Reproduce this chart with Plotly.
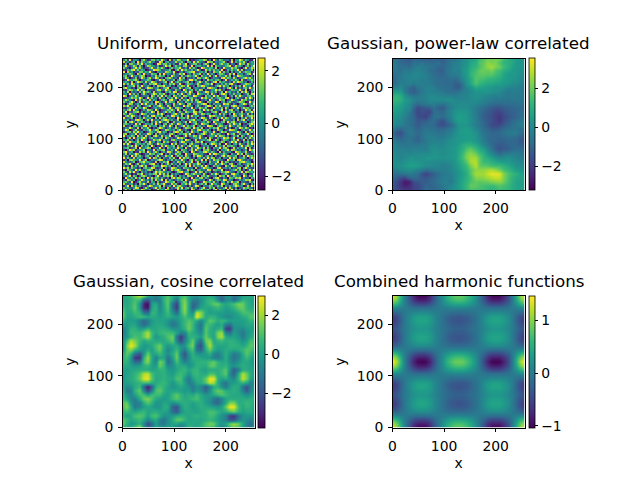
import plotly.graph_objects as go

# Noise panel: one digit per cell, 0 is the lowest colour level and 9 the highest
uniform_rows = [
    "472915530684127746395208164873559021346687140952763341805597264118",
    "835146092753684411970562338457206619485320977143568202916475830364",
    "160774385926453019847736251184690357724168503942685571430296718455",
    "593248617304875526114968037452783190566342918075434679128563047269",
    "742036958412269337585104746693251847301975466280319544867310592586",
    "216589473650134988623457105829674362594018573746290163745928134470",
    "908451327746593105442876391035146789225637041865927350614482576613",
    "354762085193427660819354272486903517468152936304775128390645147829",
    "671394526870215384756041963317258646930745281591644837052976433150",
    "485023714962683597130678524194703325187469602543189576284135796842",
    "129657840345761024968253470586314995723041856367402913647508214573",
    "563180497628349751236804915742568140369527314890756324185976340261",
    "847296351054176893405517682391047652484136759025263748932014587634",
    "304568172943620518779346120658739214076985423157948560426371964518",
    "795413068215987346126790354284156803542361897640315279508142673946",
    "216874593760432158843965217430962571638704125596824013765493180257",
    "638052417396751824510647398125483960174259836471370956242718594063",
    "451937260584126973768204561749316825096543718320489615373560247189",
    "970364851243508617492735086361875429853107462958134702618495326745",
    "123586749602947351835064729518240673412968537246753891405732184960",
    "586410927375183640267518943072659481760325194513867024964218673512",
    "742695038146725098413927650834175362589410763298046157323687501946",
    "305871462959346281750643182596407813265798041635419783152046972638",
    "869243175024681537962185074321958640473126985074823561798354210475",
    "214750836497102463586329417865034291538647102956371840263915867342",
    "637918540263875194023476851940762358106295847143590627814503296718",
    "490326781514639708125847360273186549847502316782064935761428053694",
    "751864203976254318694021579438625017923874650351827416095367428150",
    "168497325043718956470362984617039284561430297864526103487259136785",
    "923570416285463071837615240956748132604985173027394862541706382491",
    "546132897604829345168974623805213679354068214679018543260837915264",
    "380795164751306284952480173462580946712563840953267194783142560378",
    "675241938026547193306715842974163025841976502384651027396480215796",
    "812406753389174560648329507136927458036241987105873629542761340853",
    "254963180745820316975146238520487619573802164769234815016397486120",
    "497015832164693587023875461693251074289564730418650239875104623947",
    "136728594501376428946503179847036295461187352920486713345962081574",
    "780354916243985071634127850265784913025796148637512094681273459302",
    "925476083618240795183649027510392648738410256493876150264807513694",
    "403819265796157342570862413978620135649327085116249783590346172856",
    "658240371954023867926431785346197502813564790285037641473912806125",
    "172965483027394516408572136059843261785902346751486025969130547382",
    "849301756462785139675320948132570684321647059863701924056284317496",
    "316582940735619402183964570728416935870253614092538176743059268541",
    "567124809346870253914075362954082173496381720645927830182635490713",
    "204978135680432916578143629307651482953076841317054692875241360968",
    "793460218571952684036298514862743096125489637520816345109763482156",
    "481635972014386725790416238571094328764521093986347510632958074213",
    "625093847316724058142865903746185207398614725041279386457031829674",
    "937418265403591872605327481092867314056273948713605429286145730586",
    "140786539268015347983154726439520681743908152867431095570896324216",
    "852347016795642180437690152864713590281645073459082761314278965403",
    "376920481563278914061482735170394826597130264283596417820561347695",
    "514083627948103765298746031625480917364829501746310852976234058173",
    "968275314067459821370513986241765340812597643018924536142780695321",
    "207631958424786053619402857963128475056342981765490213568371402849",
    "741859230635120496875364102789456013928716350241376895320649187564",
    "583402176914365782948270635410297368645183027596024731896512740238",
    "426917503786241059317685924063518742190674832350867194275340961758",
    "095362847150938476263140795872643091537826410689215307648791523064",
    "318746025963527184590826413657092138764350296147639825401263587910",
    "674290158342816507123975680324761859401297563824056173956804321746",
    "832561407695043728469312857106584932615748039562197340278516943061",
    "159084736221697345807246193785320614982053476137480526369745018295",
    "746325981048512693735081426949167283503692174805326918415023867430",
    "281607453974360128564973210836452097126845730691754083927361540682",
]

# Correlated fields, tenths of a unit, rows from y=256 down to y=0 in steps of 8
powerlaw_rows = [
    [-6,-8,-10,-12,-14,-11,-10,-12,-12,-13,-10,-12,-12,-9,-6,-7,-3,0,2,6,8,14,17,20,20,21,20,14,10,7,5,3,2],
    [-4,-7,-9,-10,-11,-6,-8,-5,-8,-8,-9,-7,-11,-8,-5,-3,-2,1,3,8,10,17,19,24,22,22,16,12,10,8,4,3,2],
    [-3,-6,-8,-7,-9,-5,-3,-4,-5,-6,-7,-10,-10,-7,-5,-2,-2,2,4,9,12,16,20,24,26,22,20,14,10,6,4,3,2],
    [-6,-5,-7,-4,-5,-2,-2,-3,-4,-8,-9,-11,-12,-6,-4,-2,-3,3,5,11,15,19,20,19,21,16,14,10,7,5,3,2,0],
    [-8,-6,-5,-2,-2,-1,0,-2,-3,-5,-8,-9,-10,-7,-5,-4,-3,1,5,12,16,18,18,17,17,14,12,7,4,4,3,1,-1],
    [-10,-7,-4,-3,-2,-1,-2,-4,-2,-5,-6,-8,-8,-9,-7,-10,-6,-1,4,9,17,15,14,12,11,10,8,6,5,3,2,0,-3],
    [-10,-6,-3,-4,-2,-5,-3,-4,-4,-4,-6,-8,-8,-9,-9,-11,-12,-5,3,8,16,12,10,8,8,6,6,4,3,1,0,-2,-4],
    [-3,-2,0,-5,-9,-12,-6,-4,-2,-2,-3,-6,-7,-8,-8,-12,-13,-6,-1,2,8,6,6,4,3,2,2,1,-2,-2,-2,-4,-5],
    [4,5,4,-4,-10,-12,-9,-5,-3,-2,-3,-3,-5,-7,-8,-7,-6,-3,-2,0,3,3,3,3,2,1,0,-3,-5,-3,-4,-4,-6],
    [10,12,9,2,-3,-6,-5,-3,-2,0,0,-1,-2,-3,-2,-4,-3,-2,-1,1,2,1,0,-1,-2,-3,-2,-4,-5,-4,-5,-4,-6],
    [13,12,10,5,2,-2,-4,-3,-3,0,0,1,0,2,1,0,-1,-1,-1,0,1,0,-2,-3,-4,-5,-5,-6,-6,-5,-5,-5,-6],
    [10,9,7,3,0,-5,-8,-6,-5,-3,-3,-5,-6,-4,-1,0,0,1,0,0,-1,-2,-4,-6,-8,-9,-9,-8,-8,-8,-7,-7,-8],
    [8,6,5,1,-1,-10,-17,-14,-13,-12,-7,-11,-13,-6,-3,0,1,1,1,-1,-4,-6,-8,-11,-13,-14,-14,-12,-11,-10,-9,-9,-10],
    [6,4,3,0,-4,-12,-18,-15,-17,-18,-8,-8,-10,-4,-1,2,4,3,3,0,-4,-8,-11,-13,-15,-18,-18,-15,-12,-11,-10,-8,-8],
    [3,2,1,-2,-7,-10,-16,-17,-19,-12,-7,-6,-8,-5,-2,3,6,5,4,0,-4,-8,-12,-14,-16,-19,-21,-17,-14,-12,-10,-8,-6],
    [2,0,-1,-4,-7,-9,-14,-12,-12,-9,-8,-12,-16,-9,-4,2,5,5,4,1,-3,-7,-11,-13,-16,-18,-21,-16,-12,-9,-7,-5,-3],
    [1,-1,-2,-5,-7,-10,-13,-10,-9,-8,-9,-14,-16,-13,-10,-3,3,3,3,0,-3,-6,-10,-13,-17,-18,-17,-13,-10,-7,-5,-3,-1],
    [-3,-8,-9,-7,-5,-8,-11,-8,-6,-7,-7,-9,-10,-7,-5,-2,3,4,5,3,-1,-5,-8,-10,-13,-13,-12,-9,-7,-6,-6,-8,-6],
    [-10,-14,-16,-9,-4,-6,-9,-7,-4,-5,-5,-6,-6,-4,-3,1,4,5,6,4,2,-2,-6,-8,-10,-10,-9,-6,-4,-4,-4,-8,-10],
    [-6,-11,-12,-8,-6,-8,-11,-7,-4,-3,-3,-4,-5,-2,-1,2,4,4,5,5,3,-1,-5,-8,-10,-10,-10,-9,-7,-8,-8,-12,-13],
    [-3,-6,-8,-7,-6,-9,-11,-7,-5,-3,-2,-2,-2,0,2,3,4,5,6,6,3,0,-4,-7,-10,-10,-11,-11,-9,-10,-10,-14,-14],
    [-1,-3,-5,-6,-5,-5,-6,-4,-4,-1,0,-1,-1,1,2,3,6,9,11,11,8,4,-1,-5,-9,-12,-13,-12,-10,-9,-9,-12,-12],
    [0,-2,-3,-3,-4,-3,-3,-3,-4,0,2,1,0,2,3,4,7,10,16,18,13,8,5,-1,-7,-12,-15,-13,-12,-9,-8,-9,-10],
    [1,-1,-2,-1,-1,0,0,1,0,1,3,2,1,2,3,4,8,14,21,24,20,14,10,4,-1,-5,-8,-5,-4,-3,-3,-5,-6],
    [1,0,-2,0,2,2,1,2,3,4,3,3,2,3,3,4,9,15,22,26,26,18,12,9,6,2,0,1,2,0,-2,-3,-4],
    [1,1,0,2,4,4,3,2,1,1,0,0,-1,0,1,3,8,12,18,27,28,18,13,13,10,8,6,5,4,2,0,-1,-2],
    [1,2,2,4,6,6,5,3,1,0,0,-1,-3,-2,-1,2,6,10,14,22,28,19,18,17,15,14,14,11,8,5,2,1,0],
    [-2,-2,0,0,2,0,-2,-4,-7,-6,-4,-3,-3,-3,-1,1,4,8,12,18,24,24,24,26,27,24,20,15,12,8,5,4,2],
    [-6,-7,-7,-5,-4,-6,-8,-14,-19,-15,-12,-8,-5,-4,-3,0,3,6,10,18,26,26,26,30,33,33,32,22,16,13,10,7,5],
    [-10,-12,-16,-18,-10,-8,-10,-13,-14,-12,-10,-7,-4,-3,-4,0,4,7,11,15,23,23,24,26,28,30,29,22,15,11,8,7,6],
    [-12,-17,-22,-28,-26,-16,-14,-12,-12,-10,-9,-6,-3,-3,-5,0,5,8,12,16,19,18,19,20,22,23,24,20,14,10,7,6,6],
    [-13,-18,-22,-26,-24,-18,-17,-14,-10,-11,-10,-8,-5,-3,-1,2,5,9,13,19,18,16,15,14,13,15,17,15,13,9,7,6,6],
    [-14,-16,-18,-20,-20,-18,-17,-13,-8,-9,-10,-8,-6,-3,0,2,4,7,13,15,15,15,14,12,11,12,14,13,12,9,7,6,6],
]

cosine_rows = [
    [3,5,8,15,23,20,5,-4,-8,-3,5,11,3,-2,6,10,3,-3,-4,0,2,3,0,-10,-14,-3,-3,-12,-8,0,3,3,2],
    [2,2,5,10,8,-14,-20,-6,-10,-8,6,13,0,-12,10,16,2,-8,-10,-3,4,8,6,-4,-16,-6,-4,-14,-4,6,4,2,1],
    [4,2,6,12,-2,-30,-36,0,4,-8,4,13,-12,-24,8,18,3,-16,-12,-2,4,8,13,14,6,2,6,10,16,14,6,2,1],
    [8,3,6,13,-2,-30,-34,2,6,-6,3,12,-12,-26,8,19,2,-17,-8,2,3,2,5,8,4,0,2,6,13,14,6,4,4],
    [14,3,3,9,6,-10,-14,7,5,-3,2,9,-4,-14,6,17,2,-4,24,18,4,0,1,0,0,-2,-2,0,4,10,10,8,10],
    [14,2,1,4,9,8,3,4,3,0,2,5,2,-1,3,10,4,3,28,18,3,6,6,2,-2,-5,-5,-2,1,4,6,12,12],
    [5,0,0,0,-8,-15,-10,-1,2,2,1,-2,-8,-4,2,7,12,8,2,-6,4,13,10,4,8,5,0,1,0,0,3,7,5],
    [-2,-1,2,2,-7,-14,-8,0,3,3,2,-3,-12,-8,1,8,14,8,-4,-12,10,8,3,0,4,-10,-14,-2,-1,0,2,3,1],
    [-8,-2,6,6,0,2,8,3,3,5,5,3,-2,-3,0,6,15,7,-3,-10,13,5,1,5,8,-24,-26,-3,-4,-6,0,1,1],
    [-10,-2,8,8,7,14,22,8,2,7,9,9,8,2,-8,-6,8,4,0,-6,12,4,3,16,20,-8,-12,0,-5,-11,-3,1,4],
    [-6,-2,6,10,8,14,22,8,-2,2,5,11,15,-12,-26,-12,5,6,4,-1,14,6,1,17,22,3,0,2,-2,-10,-2,3,7],
    [-5,8,22,16,8,3,6,5,3,3,3,7,13,-8,-22,-8,4,14,-3,-14,15,18,2,6,8,4,6,5,1,-3,1,10,10],
    [-8,16,28,22,4,-1,0,3,10,15,4,-2,2,4,-4,-2,10,16,-14,-22,8,22,6,2,2,2,6,6,5,2,7,13,9],
    [-5,13,18,8,0,-2,4,0,8,14,3,-6,1,8,-2,-10,4,10,-12,-16,4,14,4,-1,1,4,4,2,4,8,12,10,5],
    [3,13,6,-12,-20,-2,14,2,2,8,2,-4,4,14,-8,-20,-3,6,-2,-3,0,5,-6,-9,-2,5,-2,-10,-6,4,12,6,1],
    [5,10,-2,-26,-28,6,20,3,-8,2,2,-12,1,15,-4,-16,-4,5,4,2,0,-1,-8,-9,-4,5,-4,-12,-6,2,8,2,-2],
    [6,6,-2,-14,-14,10,18,2,-6,15,10,-14,-4,10,0,-8,-4,2,5,6,6,10,14,6,2,4,-3,-8,-2,3,3,0,-2],
    [4,3,1,-2,0,5,7,1,-1,14,8,-6,-4,4,4,3,-3,0,6,5,4,12,13,6,4,7,0,-3,2,5,3,1,0],
    [0,0,2,3,4,5,4,1,3,6,6,0,-2,2,6,7,2,6,8,2,1,4,4,4,8,12,-2,-18,-8,4,4,2,2],
    [-1,1,3,6,12,22,24,10,4,4,6,2,0,6,9,5,-2,6,8,4,3,10,10,4,8,13,-6,-16,6,22,14,3,0],
    [-2,2,3,7,14,26,28,12,3,4,6,3,3,10,10,-2,-10,1,6,5,14,28,28,5,1,4,-2,-6,8,24,16,1,-1],
    [0,0,2,4,7,9,9,5,3,6,8,4,-2,4,8,0,-9,-6,3,4,12,24,20,4,-6,-12,-2,0,3,7,2,-8,-4],
    [2,-6,-3,4,8,-16,-32,-18,6,10,6,2,-3,0,3,0,-4,-10,-2,-6,-18,-8,4,6,-4,-10,0,4,3,-12,-20,-8,0],
    [5,-10,-8,6,14,-6,-24,-8,10,13,6,1,2,2,1,-1,0,-8,-2,-4,-14,-4,8,14,12,5,3,5,2,-8,-18,-6,1],
    [7,-3,-7,1,10,10,2,9,9,8,2,0,8,13,6,2,4,3,9,3,-2,0,3,8,11,8,4,3,3,0,-4,0,2],
    [8,1,-6,-8,4,14,17,11,3,1,-1,1,8,12,7,3,5,8,10,4,0,-3,-10,-14,-6,2,4,4,4,4,3,5,5],
    [12,14,-2,-10,-8,5,12,6,-2,-2,2,1,-3,0,4,5,3,1,4,5,0,-4,-12,-15,-6,3,16,16,4,5,8,6,2],
    [10,17,4,-10,-6,0,3,1,-3,-2,4,4,-16,-20,-3,5,3,0,2,5,3,2,0,-2,2,14,28,28,8,3,7,5,0],
    [6,8,4,2,6,8,2,4,5,2,2,0,-14,-18,-4,2,3,2,1,3,6,10,10,6,2,4,10,14,5,1,3,4,1],
    [6,0,3,10,12,9,1,9,11,4,-3,-3,0,4,6,4,2,4,6,4,5,9,8,2,-4,-8,-24,-27,-12,-3,-1,-2,-1],
    [12,8,2,5,8,3,-6,1,4,-6,-12,-4,5,13,13,7,2,3,3,2,4,7,4,0,-3,-8,-20,-20,-8,-2,-4,-8,-3],
    [14,5,-1,0,6,-6,-22,-14,1,-8,-10,-3,2,2,-4,-1,4,3,2,4,11,15,14,3,-2,2,14,20,14,2,-8,-14,-4],
    [6,1,2,12,22,-2,-14,-8,3,-1,-1,1,0,-8,-10,-2,6,3,3,4,10,10,8,-2,-8,-2,8,14,10,1,-6,-10,-2],
]

# Harmonic field, hundredths, x from 0 to 128 for rows y=256 down to y=128;
# the panel mirrors about x=128 and y=128
harmonic_quarter = [
    [135,107,56,5,-44,-78,-98,-100,-98,-78,-44,-9,23,51,70,82,86],
    [113,90,47,4,-37,-66,-82,-84,-82,-66,-37,-8,20,45,60,72,75],
    [73,58,30,3,-23,-40,-50,-52,-50,-40,-23,-5,13,28,38,44,46],
    [17,14,7,1,-5,-10,-12,-12,-12,-10,-5,-1,3,7,9,11,11],
    [-26,-21,-11,-1,8,14,18,19,18,14,8,2,-5,-10,-14,-16,-17],
    [-55,-44,-23,-2,17,30,38,39,38,30,17,4,-10,-21,-29,-33,-35],
    [-61,-48,-25,-2,19,34,42,43,42,34,19,4,-10,-23,-32,-37,-39],
    [-51,-40,-21,-2,16,28,35,36,35,28,16,4,-9,-19,-26,-31,-32],
    [-41,-32,-17,-1,13,22,28,29,28,22,13,3,-7,-15,-21,-25,-26],
    [-51,-40,-21,-2,16,28,35,36,35,28,16,4,-9,-19,-26,-31,-32],
    [-61,-48,-25,-2,19,34,42,43,42,34,19,4,-10,-23,-32,-37,-39],
    [-55,-44,-23,-2,17,30,38,39,38,30,17,4,-10,-21,-29,-33,-35],
    [-26,-21,-11,-1,8,14,18,19,18,14,8,2,-5,-10,-14,-16,-17],
    [17,14,7,1,-5,-10,-12,-12,-12,-10,-5,-1,3,7,9,11,11],
    [73,58,30,3,-23,-40,-50,-52,-50,-40,-23,-5,13,28,38,44,46],
    [119,94,49,4,-37,-66,-82,-84,-82,-66,-37,-8,20,45,61,72,75],
    [145,115,60,5,-45,-80,-100,-103,-100,-80,-45,-10,25,55,75,88,92],
]

titles = ["Uniform, uncorrelated", "Gaussian, power-law correlated",
          "Gaussian, cosine correlated", "Combined harmonic functions"]
color_limits = [(-2.52, 2.48), (-3.23, 3.56), (-3.74, 3.0), (-1.03, 1.47)]
colorbar_ticks = [[-2, 0, 2], [-2, 0, 2], [-2, 0, 2], [-1, 0, 1]]
axis_ticks = [0, 100, 200]

WIDTH, HEIGHT = 640, 480
FONT = "DejaVu Sans"
TICK_SIZE = 13.9
TITLE_SIZE = 16.7
# Pixel boxes of the four image panels: left, right, top, bottom
panel_boxes = [(122.5, 254.5, 58.5, 190), (392.5, 524.5, 58.5, 190),
               (122.5, 254.5, 295.5, 427.5), (392.5, 524.5, 295.5, 427.5)]
colorbar_gaps = [3, 4, 3, 4]
colorbar_widths = [7, 6, 7, 6]


def grid_axis(n):
    return [256 * i / (n - 1) for i in range(n)]


def cell_axis(n):
    return [256 * (i + 0.5) / n for i in range(n)]


for name, rows in (("powerlaw", powerlaw_rows), ("cosine", cosine_rows)):
    for k, row in enumerate(rows):
        assert len(row) == 33, (name, k, len(row))

noise_width = min(len(r) for r in uniform_rows)
uniform_z = [[-2.5 + 5 * int(c) / 9 for c in row[:noise_width]] for row in uniform_rows][::-1]
powerlaw_z = [[v / 10 for v in row] for row in powerlaw_rows[::-1]]
cosine_z = [[v / 10 for v in row] for row in cosine_rows[::-1]]
harmonic_half = [[v / 100 for v in row + row[-2::-1]] for row in harmonic_quarter]
harmonic_z = harmonic_half + harmonic_half[-2::-1]
fields = [uniform_z, powerlaw_z, cosine_z, harmonic_z]

fig = go.Figure()
for i, (field, box) in enumerate(zip(fields, panel_boxes)):
    left, right, top, bottom = box
    suffix = "" if i == 0 else str(i + 1)
    smooth = False if i == 0 else "best"
    xs = cell_axis(len(field[0])) if i == 0 else grid_axis(len(field[0]))
    ys = cell_axis(len(field)) if i == 0 else grid_axis(len(field))
    zmin, zmax = color_limits[i]
    fig.add_trace(go.Heatmap(
        z=field, x=xs, y=ys, xaxis="x" + suffix, yaxis="y" + suffix,
        colorscale="Viridis", zmin=zmin, zmax=zmax, zsmooth=smooth,
        hoverinfo="skip",
        colorbar=dict(
            x=(right + colorbar_gaps[i]) / WIDTH, xanchor="left", xref="paper",
            y=1 - bottom / HEIGHT, yanchor="bottom", yref="paper",
            len=(bottom - top) / HEIGHT, lenmode="fraction",
            thickness=colorbar_widths[i], thicknessmode="pixels",
            outlinewidth=0.8, outlinecolor="black",
            xpad=0, ypad=0,
            ticks="outside", ticklen=3.5, tickwidth=0.8, tickcolor="black",
            tickvals=colorbar_ticks[i],
            tickfont=dict(family=FONT, size=TICK_SIZE, color="black"),
        ),
    ))
    common = dict(
        range=[0, 256], tickvals=axis_ticks, ticks="outside", ticklen=3.5,
        tickwidth=0.8, tickcolor="black", showgrid=False, zeroline=False,
        showline=True, linecolor="black", linewidth=0.8, mirror=True,
        automargin=False, ticklabelstandoff=2,
        tickfont=dict(family=FONT, size=TICK_SIZE, color="black"),
    )
    fig.update_layout({
        "xaxis" + suffix: dict(
            common, domain=[left / WIDTH, right / WIDTH],
            anchor="y" + suffix,
            title=dict(text="x", standoff=5,
                       font=dict(family=FONT, size=TICK_SIZE, color="black")),
        ),
        "yaxis" + suffix: dict(
            common, domain=[1 - bottom / HEIGHT, 1 - top / HEIGHT],
            anchor="x" + suffix,
            title=dict(text="y", standoff=7,
                       font=dict(family=FONT, size=TICK_SIZE, color="black")),
        ),
    })
    fig.add_annotation(
        text=titles[i], xref="paper", yref="paper", showarrow=False,
        x=(left + right) / 2 / WIDTH, y=1 - (top - 3) / HEIGHT,
        xanchor="center", yanchor="bottom",
        font=dict(family=FONT, size=TITLE_SIZE, color="black"),
    )

fig.update_layout(
    width=WIDTH, height=HEIGHT, margin=dict(l=0, r=0, t=0, b=0),
    paper_bgcolor="white", plot_bgcolor="white", showlegend=False,
)
fig.write_html("out.html")
